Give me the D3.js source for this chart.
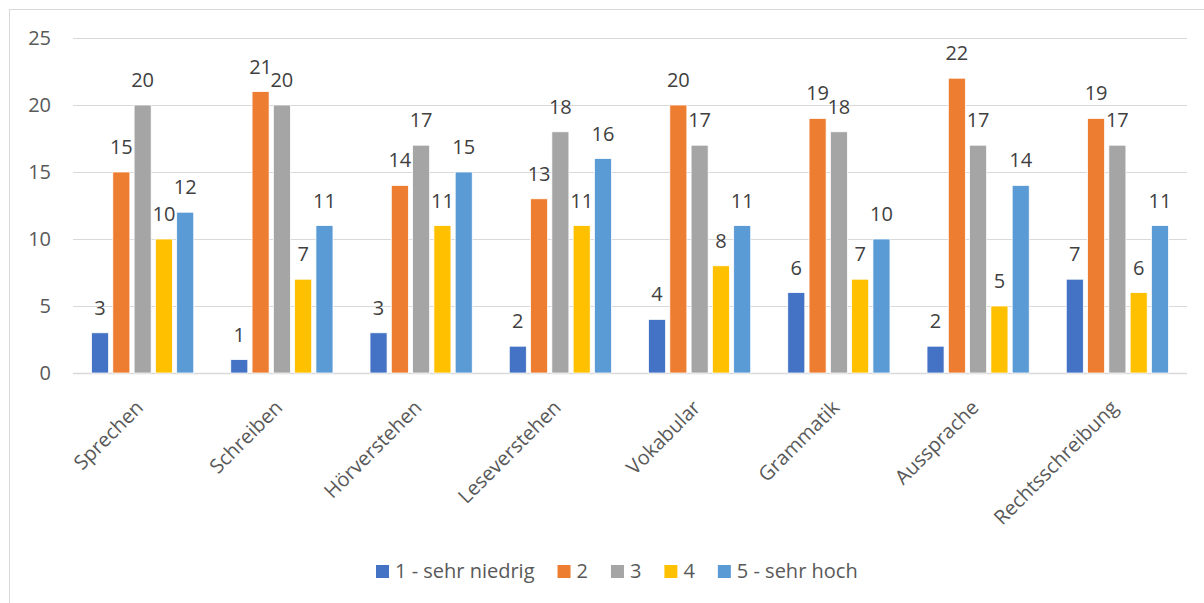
<!DOCTYPE html>
<html>
<head>
<meta charset="utf-8">
<script src="https://cdn.jsdelivr.net/npm/d3@7"></script>
<style>
  body { margin: 0; background: #fff; }
  svg { display: block; font-family: "Open Sans", sans-serif; }
</style>
</head>
<body>
<div class="svg"></div>
<script>
var categories = ["Sprechen", "Schreiben", "Hörverstehen", "Leseverstehen", "Vokabular", "Grammatik", "Aussprache", "Rechtsschreibung"];
var seriesNames = ["1 - sehr niedrig", "2", "3", "4", "5 - sehr hoch"];
var seriesColors = ["#4472c4", "#ed7d31", "#a5a5a5", "#ffc000", "#5b9bd5"];
var s1 = [3, 1, 3, 2, 4, 6, 2, 7];
var s2 = [15, 21, 14, 13, 20, 19, 22, 19];
var s3 = [20, 20, 17, 18, 17, 18, 17, 17];
var s4 = [10, 7, 11, 11, 8, 7, 5, 6];
var s5 = [12, 11, 15, 16, 11, 10, 14, 11];
var yTicks = [0, 5, 10, 15, 20, 25];

window.onload = function() {
  var w = 1204, h = 603;
  var margin = { top: 38, bottom: 230, left: 73, right: 17 };
  var width = w - margin.left - margin.right;
  var height = h - margin.top - margin.bottom;
  var allSeries = [s1, s2, s3, s4, s5];
  var fs = "20px";

  var svg = d3.select(".svg").append("svg").attr("width", w).attr("height", h);

  // chart border
  svg.append("rect").attr("x", 9.5).attr("y", 9.5).attr("width", 1300).attr("height", 700)
     .attr("fill", "none").attr("stroke", "#d9d9d9").attr("stroke-width", 1);

  var chart = svg.append("g").attr("transform", "translate(" + margin.left + "," + margin.top + ")");

  var x0 = d3.scaleBand().domain(categories).range([0, width]).padding(0);
  var x1 = d3.scaleBand().domain(d3.range(seriesNames.length)).range([0, x0.bandwidth()])
             .paddingInner(0.2).paddingOuter(0.87);
  var y = d3.scaleLinear().domain([0, 25]).range([height, 0]);

  // gridlines
  chart.append("g").selectAll("line").data(yTicks).enter().append("line")
       .attr("x1", 0).attr("x2", width)
       .attr("y1", function(d) { return Math.round(y(d)) + 0.5; })
       .attr("y2", function(d) { return Math.round(y(d)) + 0.5; })
       .attr("stroke", "#d9d9d9").attr("stroke-width", function(d) { return d === 0 ? 1.5 : 1; });

  // y axis labels
  var yAxis = d3.axisLeft(y).tickValues(yTicks).tickSize(0).tickPadding(22);
  var yg = chart.append("g").attr("class", "y axis").call(yAxis);
  yg.select(".domain").remove();
  yg.selectAll("text").attr("fill", "#595959").style("font-size", fs)
    .style("font-family", "Open Sans, sans-serif");

  // bars
  var groups = chart.selectAll(".grp").data(categories).enter().append("g")
                    .attr("class", "grp")
                    .attr("transform", function(d) { return "translate(" + x0(d) + ",0)"; });

  groups.selectAll("rect").data(function(d, i) {
    return allSeries.map(function(s, k) { return { k: k, v: s[i] }; });
  }).enter().append("rect")
    .attr("x", function(d) { return x1(d.k); })
    .attr("width", x1.bandwidth())
    .attr("y", function(d) { return y(d.v); })
    .attr("height", function(d) { return height - y(d.v); })
    .attr("fill", function(d) { return seriesColors[d.k]; })
    .attr("stroke", "#fff").attr("stroke-width", 0.75);

  groups.selectAll("text.val").data(function(d, i) {
    return allSeries.map(function(s, k) { return { k: k, v: s[i] }; });
  }).enter().append("text")
    .attr("class", "val")
    .attr("x", function(d) { return x1(d.k) + x1.bandwidth() / 2; })
    .attr("y", function(d) { return y(d.v) - 18; })
    .attr("text-anchor", "middle")
    .attr("fill", "#404040").style("font-size", fs)
    .text(function(d) { return d.v; });

  // category labels
  chart.append("g").selectAll("text").data(categories).enter().append("text")
       .attr("transform", function(d) {
         return "translate(" + (x0(d) + x0.bandwidth() / 2 - 8) + "," + (height + 26) + ") rotate(-45)";
       })
       .attr("text-anchor", "end")
       .attr("dy", "0.7em")
       .attr("fill", "#595959").style("font-size", fs)
       .text(function(d) { return d; });

  // legend
  var legend = svg.append("g").attr("class", "legend");
  var items = legend.selectAll("g").data(seriesNames).enter().append("g");
  items.append("rect").attr("width", 13).attr("height", 13).attr("y", -13)
       .attr("fill", function(d, i) { return seriesColors[i]; });
  items.append("text").attr("x", 19).attr("y", 0).attr("fill", "#595959")
       .style("font-size", fs).text(function(d) { return d; });
  var pos = 0;
  items.each(function() {
    var g = d3.select(this);
    g.attr("transform", "translate(" + pos + ",0)");
    pos += 19 + g.select("text").node().getComputedTextLength() + 23;
  });
  var total = pos - 23;
  legend.attr("transform", "translate(" + Math.round(617 - total / 2) + ",578)");
};
</script>
</body>
</html>
